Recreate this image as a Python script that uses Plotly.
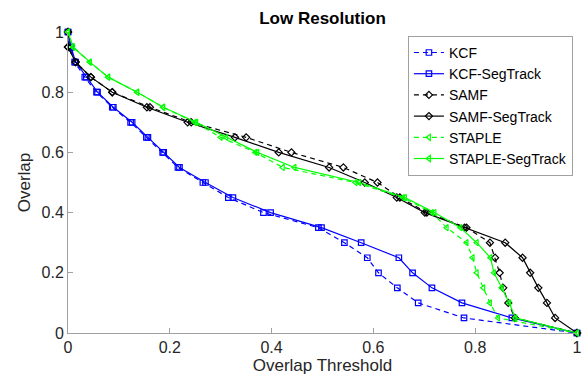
import plotly.graph_objects as go

# Overlap levels (y) shared by all curves
overlap = [1.0, 0.95, 0.9, 0.85, 0.8, 0.75, 0.7, 0.65, 0.6, 0.55, 0.5,
           0.45, 0.4, 0.35, 0.3, 0.25, 0.2, 0.15, 0.1, 0.05, 0.0]

# Overlap threshold (x) per tracker
kcf = [0.0, 0.005, 0.013, 0.033, 0.056, 0.087, 0.123, 0.154, 0.186, 0.216, 0.265,
       0.315, 0.384, 0.492, 0.543, 0.588, 0.610, 0.647, 0.688, 0.778, 1.0]
kcf_seg = [0.0, 0.006, 0.015, 0.036, 0.058, 0.089, 0.126, 0.157, 0.188, 0.219, 0.270,
           0.324, 0.398, 0.498, 0.576, 0.650, 0.677, 0.715, 0.774, 0.872, 1.0]
samf = [0.0, 0.0, 0.015, 0.045, 0.087, 0.161, 0.242, 0.350, 0.439, 0.541, 0.608,
        0.652, 0.705, 0.783, 0.829, 0.839, 0.848, 0.855, 0.865, 0.878, 1.0]
samf_seg = [0.0, 0.0, 0.015, 0.045, 0.087, 0.155, 0.235, 0.328, 0.414, 0.513, 0.583,
            0.646, 0.701, 0.779, 0.859, 0.893, 0.908, 0.924, 0.941, 0.957, 1.0]
staple = [0.0, 0.010, 0.043, 0.079, 0.136, 0.187, 0.249, 0.300, 0.368, 0.422, 0.565,
          0.658, 0.715, 0.744, 0.783, 0.795, 0.803, 0.816, 0.829, 0.845, 1.0]
staple_seg = [0.0, 0.010, 0.043, 0.079, 0.136, 0.187, 0.252, 0.311, 0.372, 0.445, 0.572,
              0.662, 0.720, 0.771, 0.803, 0.830, 0.837, 0.852, 0.867, 0.879, 1.0]

names = ["KCF", "KCF-SegTrack", "SAMF", "SAMF-SegTrack", "STAPLE", "STAPLE-SegTrack"]
series = [kcf, kcf_seg, samf, samf_seg, staple, staple_seg]
colors = ["#0000FF", "#0000FF", "#000000", "#000000", "#00FF00", "#00FF00"]
dashes = ["5px,4px", "solid", "5px,4px", "solid", "5px,4px", "solid"]
symbols = ["square-open", "square-open", "diamond-open", "diamond-open",
           "triangle-left-open", "triangle-left-open"]

FONT = "Liberation Sans, Arial, sans-serif"

fig = go.Figure()
for n, xs, c, d, s in zip(names, series, colors, dashes, symbols):
    fig.add_trace(go.Scatter(
        x=xs, y=overlap, name=n, mode="lines+markers",
        line=dict(color=c, width=1.2, dash=d),
        marker=dict(symbol=s, size=5.5, color=c, line=dict(color=c, width=1.2)),
        cliponaxis=False,
    ))

axis_common = dict(
    range=[0, 1], tickvals=[0, 0.2, 0.4, 0.6, 0.8, 1],
    ticktext=["0", "0.2", "0.4", "0.6", "0.8", "1"],
    ticks="inside", ticklen=5, tickcolor="#a0a0a0", tickwidth=1,
    showline=True, linecolor="#a0a0a0", linewidth=1, mirror=False,
    showgrid=False, zeroline=False,
    tickfont=dict(family=FONT, size=16, color="#262626"),
)

fig.update_layout(
    width=588, height=380,
    margin=dict(l=68, r=11, t=32, b=47, autoexpand=False),
    paper_bgcolor="white", plot_bgcolor="white",
    title=dict(text="<b>Low Resolution</b>", x=0.5, xref="paper", xanchor="center",
               y=1 - 18 / 380, yref="container", yanchor="middle",
               font=dict(family=FONT, size=17, color="#000000")),
    xaxis=dict(axis_common, title=dict(text="Overlap Threshold", standoff=0,
                                       font=dict(family=FONT, size=17, color="#262626"))),
    yaxis=dict(axis_common, title=dict(text="Overlap", standoff=6,
                                       font=dict(family=FONT, size=17, color="#262626"))),
    legend=dict(x=0.992, y=0.987, xanchor="right", yanchor="top",
                bgcolor="white", bordercolor="#a0a0a0", borderwidth=1,
                font=dict(family=FONT, size=14, color="#000000"),
                itemwidth=30, tracegroupgap=0),
    showlegend=True,
)

fig.write_html("out.html")
